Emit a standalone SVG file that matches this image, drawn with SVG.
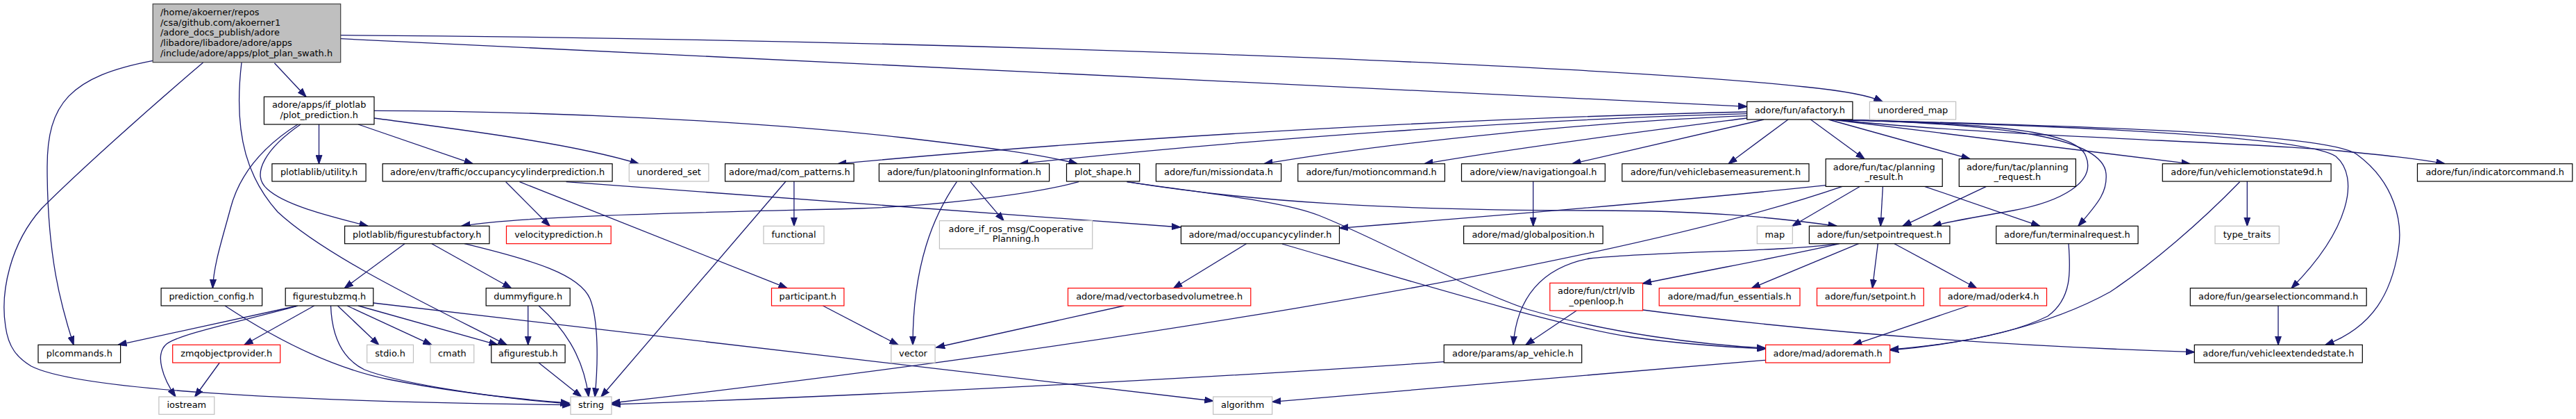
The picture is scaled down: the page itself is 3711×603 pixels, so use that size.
<svg xmlns="http://www.w3.org/2000/svg" width="3711" height="603" viewBox="0 0 3711 603">
<style>
rect{fill:#fff;stroke:#000;stroke-width:1.2}
.g rect{stroke:#bfbfbf}
.r rect{stroke:#ff0000}
.root rect{fill:#bfbfbf;stroke:#404040}
text{font-family:"DejaVu Sans",sans-serif;font-size:12.9px;text-anchor:middle;fill:#000}
.root text{text-anchor:start}
#edges path{fill:none;stroke:#191970;stroke-width:1.3;marker-end:url(#a)}
</style>
<defs>
<marker id="a" markerUnits="userSpaceOnUse" markerWidth="13" markerHeight="10" viewBox="0 0 13 10" refX="12.5" refY="5" orient="auto">
<path d="M0,0.5 L13,5 L0,9.5 Z" fill="#191970" stroke="#191970" stroke-width="1"/>
</marker>
</defs>
<rect x="0" y="0" width="3711" height="603" style="fill:#fff;stroke:none"/>
<g id="edges">
<path d="M395.4,90.7 L440.9,139.3"/>
<path d="M490.7,55.7 L2516.7,153.3"/>
<path d="M490.7,50.7 C1300,56 2300,92 2600,125 C2650,130 2690,136 2712,146.3"/>
<path d="M220.2,87.3 C100,110 68,150 68,240 C68,370 88,440 106,496.3"/>
<path d="M292.6,90 C210,160 110,250 60,300 C15,350 0,420 8,470 C12,500 25,515 45,527 C110,560 400,578 823,582.7"/>
<path d="M348,90 C335,200 360,260 400,305 C470,370 620,440 730,496.3"/>
<path d="M459.5,179 L459.5,235.7"/>
<path d="M516,179 L681,235.7"/>
<path d="M539,170 C650,185 820,205 920,235.7"/>
<path d="M539,159.3 C800,160 1100,175 1300,198 C1420,212 1500,222 1552,235.7"/>
<path d="M429,179 C380,210 345,250 332,300 C320,345 308,380 306.4,414.7"/>
<path d="M433,179 C385,212 360,250 385,272 C410,295 470,310 530,325.3"/>
<path d="M1554,261.7 C1480,282 1330,297 1238,300 C1000,306 760,310 665,325.3"/>
<path d="M815.7,261.7 L1700.6,327"/>
<path d="M728.7,261.7 L792,325.3"/>
<path d="M748.5,261.7 L1134,414.7"/>
<path d="M1185.4,440 L1294,496.3"/>
<path d="M1378.3,261.7 C1345,310 1315,380 1315,496.3"/>
<path d="M1398,261.7 L1446,317.7"/>
<path d="M1143.9,261 L1143.9,325.3"/>
<path d="M1132,261 L866,571"/>
<path d="M669,350.7 C770,375 835,395 850,430 C862,460 862,520 857,571"/>
<path d="M583,350.7 L496.3,414.7"/>
<path d="M622,350.7 L736.6,414.7"/>
<path d="M760.7,440 L760.7,496.3"/>
<path d="M776,440 C810,470 840,510 848,571"/>
<path d="M776,522 L837.5,571"/>
<path d="M324,440 C400,490 480,530 560,546 C650,564 740,574 820,580"/>
<path d="M429,440 L170,496.3"/>
<path d="M427,440.7 C350,462 260,480 240,495 C222,510 235,545 253,571"/>
<path d="M452.7,440 L352,496.3"/>
<path d="M486.4,440 L545.7,496.3"/>
<path d="M500,440 L622,496.3"/>
<path d="M516,440 L717,496.3"/>
<path d="M537.8,436 L1747.7,577"/>
<path d="M476.5,440 C478,480 490,515 525,532 C570,550 700,572 820,581"/>
<path d="M316.3,522 L280.7,571"/>
<path d="M2208.7,261 L2208.7,325.3"/>
<path d="M2541,172 L2265,235.7"/>
<path d="M2516.7,170 C2400,185 2200,210 2052,235.7"/>
<path d="M2516.7,166.7 C2300,175 2000,205 1821,235.7"/>
<path d="M2516.7,163.7 C2200,172 1800,200 1469,235.7"/>
<path d="M2516.7,161 C2200,168 1700,190 1207,235.7"/>
<path d="M2576,172 L2490,235.7"/>
<path d="M2608.4,172 L2686,228.7"/>
<path d="M2634,172 L2838,228.7"/>
<path d="M2638,172 L3155,235.7"/>
<path d="M2642,172 C2850,195 3250,205 3370,217 C3430,223 3480,228 3522,235.7"/>
<path d="M2638,172 C2950,180 3320,195 3365,225 C3400,255 3385,330 3301,414.7"/>
<path d="M2638,172 C2950,180 3350,190 3395,222 C3450,262 3462,320 3455,360 C3445,420 3420,470 3350,496.3"/>
<path d="M2638,172 C2850,178 2990,185 3005,225 C3020,262 2970,290 2900,303 C2850,312 2810,318 2784.4,325.3"/>
<path d="M2638,172 C2900,178 3030,200 3034,250 C3036,275 3025,290 2994,325.3"/>
<path d="M2630.2,266.7 C2450,286 2200,307 1929.5,328.3"/>
<path d="M2654,268.3 C2300,390 1500,510 881,580"/>
<path d="M2679.6,268.3 L2582,325.3"/>
<path d="M2712.4,268.3 L2709.2,325.3"/>
<path d="M2772.5,268.3 L2938.6,325.3"/>
<path d="M2861.5,268.3 L2741,325.3"/>
<path d="M2646,350.7 C2580,362 2380,362 2290,372 C2220,385 2185,430 2180,496.3"/>
<path d="M2650,350.7 C2590,365 2480,385 2366.5,408"/>
<path d="M2677.6,350.7 L2523.4,414.7"/>
<path d="M2705.3,350.7 L2697.4,414.7"/>
<path d="M2729,350.7 L2847.6,414.7"/>
<path d="M2980,350.7 C2983,390 2985,430 2950,455 C2900,480 2820,495 2722.7,503"/>
<path d="M3226.6,261.7 C3170,320 3100,380 3040,420 C2950,470 2830,495 2722.7,504"/>
<path d="M3237.3,261 L3237.3,325.3"/>
<path d="M2835.8,440 L2669.7,496.3"/>
<path d="M3282,440 L3282,496.3"/>
<path d="M2366.5,446 C2550,470 2800,495 3161.3,506.7"/>
<path d="M2271.2,447 L2198,496.3"/>
<path d="M1795.5,350.7 L1690.7,414.7"/>
<path d="M1847,351 C2050,410 2250,470 2350,485 C2420,495 2480,499 2543.6,502"/>
<path d="M1623.5,261.7 C1750,280 1850,290 1900,310 C2000,350 2100,410 2200,445 C2320,480 2450,496 2543.6,501"/>
<path d="M1623.5,261.7 C1800,290 2000,303 2300,303 C2450,303 2550,312 2646,325.3"/>
<path d="M2543.2,518.3 L1832.7,578.3"/>
<path d="M2080.2,520.7 C1800,540 1300,568 881,582"/>
<path d="M1619.5,440 L1348.7,500"/>
</g>
<g id="root" class="root"><rect x="220.2" y="5.7" width="270.5" height="84"/>
<text x="231" y="21.8">/home/akoerner/repos</text><text x="231" y="36.5">/csa/github.com/akoerner1</text><text x="231" y="51.2">/adore_docs_publish/adore</text><text x="231" y="65.9">/libadore/libadore/adore/apps</text><text x="231" y="80.6">/include/adore/apps/plot_plan_swath.h</text></g>
<g id="plot_prediction"><rect x="380.4" y="139.3" width="158.6" height="39.7"/><text x="459.7" y="155.2">adore/apps/if_plotlab</text><text x="459.7" y="170">/plot_prediction.h</text></g>
<g id="afactory"><rect x="2516.7" y="146.3" width="152.2" height="25.7"/><text x="2592.8" y="162.6">adore/fun/afactory.h</text></g>
<g id="unordered_map" class="g"><rect x="2693.4" y="146.3" width="124.2" height="25.7"/><text x="2755.5" y="162.6">unordered_map</text></g>
<g id="utility"><rect x="391.9" y="235.7" width="135.2" height="25.3"/><text x="459.5" y="252">plotlablib/utility.h</text></g>
<g id="occpred"><rect x="551.2" y="235.7" width="330.9" height="25.3"/><text x="716.65" y="252">adore/env/traffic/occupancycylinderprediction.h</text></g>
<g id="unordered_set" class="g"><rect x="906.3" y="235.7" width="114.6" height="25.3"/><text x="963.6" y="252">unordered_set</text></g>
<g id="com_patterns"><rect x="1044.6" y="235.7" width="185.5" height="25.3"/><text x="1137.35" y="252">adore/mad/com_patterns.h</text></g>
<g id="platooning"><rect x="1266.4" y="235.7" width="245.2" height="25.3"/><text x="1389" y="252">adore/fun/platooningInformation.h</text></g>
<g id="plot_shape"><rect x="1536.5" y="235.7" width="105.2" height="25.3"/><text x="1589.1" y="252">plot_shape.h</text></g>
<g id="missiondata"><rect x="1665.4" y="235.7" width="180.3" height="25.3"/><text x="1755.55" y="252">adore/fun/missiondata.h</text></g>
<g id="motioncommand"><rect x="1869.8" y="235.7" width="211.6" height="25.3"/><text x="1975.6" y="252">adore/fun/motioncommand.h</text></g>
<g id="navigationgoal"><rect x="2105.5" y="235.7" width="206.8" height="25.3"/><text x="2208.9" y="252">adore/view/navigationgoal.h</text></g>
<g id="vbm"><rect x="2336.8" y="235.7" width="269.2" height="25.3"/><text x="2471.4" y="252">adore/fun/vehiclebasemeasurement.h</text></g>
<g id="vms9d"><rect x="3115.3" y="235.7" width="242.8" height="25.3"/><text x="3236.7" y="252">adore/fun/vehiclemotionstate9d.h</text></g>
<g id="indicator"><rect x="3482.5" y="235.7" width="223.3" height="25.3"/><text x="3594.15" y="252">adore/fun/indicatorcommand.h</text></g>
<g id="planning_result"><rect x="2630.2" y="228.7" width="168" height="39.7"/><text x="2714.2" y="244.6">adore/fun/tac/planning</text><text x="2714.2" y="259.4">_result.h</text></g>
<g id="planning_request"><rect x="2822.3" y="228.7" width="168.1" height="39.7"/><text x="2906.35" y="244.6">adore/fun/tac/planning</text><text x="2906.35" y="259.4">_request.h</text></g>
<g id="figurestubfactory"><rect x="496.6" y="325.3" width="208.4" height="25.4"/><text x="600.8" y="341.6">plotlablib/figurestubfactory.h</text></g>
<g id="velocityprediction" class="r"><rect x="729.5" y="325.3" width="150.7" height="25.4"/><text x="804.85" y="341.6">velocityprediction.h</text></g>
<g id="functional" class="g"><rect x="1100" y="325.3" width="87" height="25.4"/><text x="1143.5" y="341.6">functional</text></g>
<g id="occupancycylinder"><rect x="1701.4" y="325.3" width="228.1" height="25.4"/><text x="1815.45" y="341.6">adore/mad/occupancycylinder.h</text></g>
<g id="globalposition"><rect x="2108.6" y="325.3" width="200.5" height="25.4"/><text x="2208.85" y="341.6">adore/mad/globalposition.h</text></g>
<g id="map" class="g"><rect x="2531.3" y="325.3" width="51" height="25.4"/><text x="2556.8" y="341.6">map</text></g>
<g id="setpointrequest"><rect x="2606.4" y="325.3" width="202.5" height="25.4"/><text x="2707.65" y="341.6">adore/fun/setpointrequest.h</text></g>
<g id="terminalrequest"><rect x="2875.7" y="325.3" width="204.4" height="25.4"/><text x="2977.9" y="341.6">adore/fun/terminalrequest.h</text></g>
<g id="type_traits" class="g"><rect x="3191" y="325.3" width="92.3" height="25.4"/><text x="3237.15" y="341.6">type_traits</text></g>
<g id="cooperative" class="g"><rect x="1353.4" y="317.7" width="220.3" height="40.3"/><text x="1463.55" y="333.6">adore_if_ros_msg/Cooperative</text><text x="1463.55" y="348.4">Planning.h</text></g>
<g id="prediction_config"><rect x="232.1" y="414.7" width="145.5" height="25.3"/><text x="304.85" y="431">prediction_config.h</text></g>
<g id="figurestubzmq"><rect x="411.2" y="414.7" width="126.6" height="25.3"/><text x="474.5" y="431">figurestubzmq.h</text></g>
<g id="dummyfigure"><rect x="700.2" y="414.7" width="121" height="25.3"/><text x="760.7" y="431">dummyfigure.h</text></g>
<g id="participant" class="r"><rect x="1111.5" y="414.7" width="104.4" height="25.3"/><text x="1163.7" y="431">participant.h</text></g>
<g id="vectorbasedvolumetree" class="r"><rect x="1538.5" y="414.7" width="263.3" height="25.3"/><text x="1670.15" y="431">adore/mad/vectorbasedvolumetree.h</text></g>
<g id="fun_essentials" class="r"><rect x="2390.2" y="414.7" width="202.8" height="25.3"/><text x="2491.6" y="431">adore/mad/fun_essentials.h</text></g>
<g id="setpoint" class="r"><rect x="2617.5" y="414.7" width="153.8" height="25.3"/><text x="2694.4" y="431">adore/fun/setpoint.h</text></g>
<g id="oderk4" class="r"><rect x="2794.7" y="414.7" width="153.8" height="25.3"/><text x="2871.6" y="431">adore/mad/oderk4.h</text></g>
<g id="gearselection"><rect x="3155.3" y="414.7" width="253.9" height="25.3"/><text x="3282.25" y="431">adore/fun/gearselectioncommand.h</text></g>
<g id="vlb_openloop" class="r"><rect x="2232.8" y="407.3" width="133.7" height="39.7"/><text x="2299.65" y="423.2">adore/fun/ctrl/vlb</text><text x="2299.65" y="438">_openloop.h</text></g>
<g id="plcommands"><rect x="55" y="496.3" width="118.6" height="25.7"/><text x="114.3" y="512.6">plcommands.h</text></g>
<g id="zmqobjectprovider" class="r"><rect x="248.7" y="496.3" width="155" height="25.7"/><text x="326.2" y="512.6">zmqobjectprovider.h</text></g>
<g id="stdio" class="g"><rect x="528.7" y="496.3" width="66.8" height="25.7"/><text x="562.1" y="512.6">stdio.h</text></g>
<g id="cmath" class="g"><rect x="620" y="496.3" width="62.8" height="25.7"/><text x="651.4" y="512.6">cmath</text></g>
<g id="afigurestub"><rect x="707.8" y="496.3" width="106.3" height="25.7"/><text x="760.95" y="512.6">afigurestub.h</text></g>
<g id="vector" class="g"><rect x="1283.8" y="496.3" width="63.3" height="25.7"/><text x="1315.45" y="512.6">vector</text></g>
<g id="ap_vehicle"><rect x="2080.2" y="496.3" width="198.5" height="25.7"/><text x="2179.45" y="512.6">adore/params/ap_vehicle.h</text></g>
<g id="adoremath" class="r"><rect x="2543.6" y="496.3" width="179.1" height="25.7"/><text x="2633.15" y="512.6">adore/mad/adoremath.h</text></g>
<g id="vehicleextendedstate"><rect x="3161.3" y="496.3" width="242" height="25.7"/><text x="3282.3" y="512.6">adore/fun/vehicleextendedstate.h</text></g>
<g id="iostream" class="g"><rect x="228.9" y="571" width="79.9" height="25.3"/><text x="268.85" y="587.3">iostream</text></g>
<g id="string" class="g"><rect x="822" y="571" width="59" height="25.3"/><text x="851.5" y="587.3">string</text></g>
<g id="algorithm" class="g"><rect x="1747.7" y="571" width="85" height="25.3"/><text x="1790.2" y="587.3">algorithm</text></g>
</svg>
